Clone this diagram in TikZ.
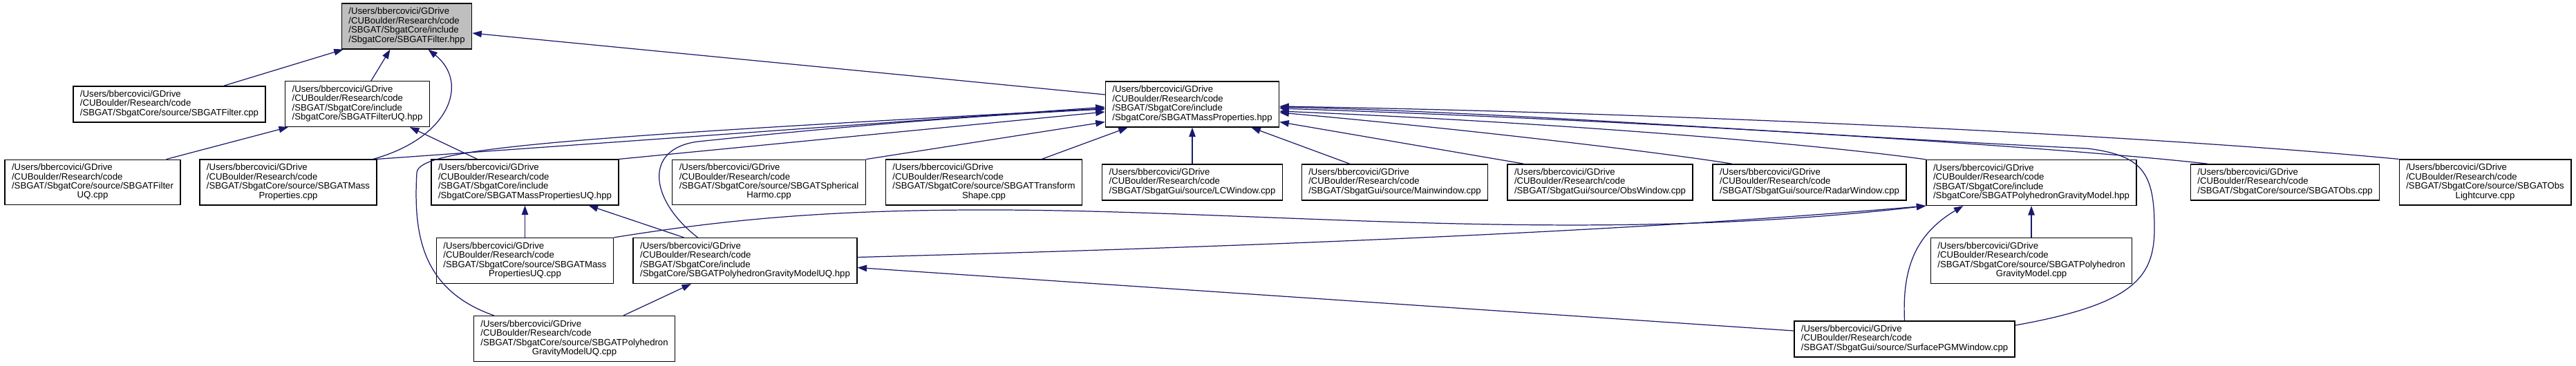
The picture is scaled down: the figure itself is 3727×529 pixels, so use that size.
\documentclass[tikz,border=0pt]{standalone}
\usepackage{fontspec}
\setmainfont{Liberation Sans}
\usetikzlibrary{arrows.meta,calc}

\definecolor{edgeblue}{HTML}{191970}
\definecolor{rootgray}{HTML}{BFBFBF}

% path labels: two common lines, then the rest
\newcommand{\fhead}{/Users/bbercovici/GDrive\\ /CUBoulder/Research/code\\}
\newcommand{\fcont}[1]{\multicolumn{1}{@{}c@{}}{#1}}
\newcommand{\fpath}[1]{\begin{tabular}{@{}l@{}}\fhead #1\end{tabular}}

\tikzset{
  filebox/.style={draw=black, line width=0.8pt, fill=white, inner xsep=0.2cm,
    inner ysep=0.12cm, font=\fontsize{7.5}{7.4}\selectfont},
  rootbox/.style={filebox, fill=rootgray},
  incl/.style={draw=edgeblue, line width=0.7pt, -{Triangle[length=0.27cm,width=0.19cm]}}
}

\begin{document}
\begin{tikzpicture}[x=0.02cm, y=-0.02cm]
    \useasboundingbox (0,0) rectangle (3727,529);

    % The header itself
    \node[rootbox] (root) at (588.5,38) {\fpath{/SBGAT/SbgatCore/include\\ /SbgatCore/SBGATFilter.hpp}};

    % Second row
    \node[filebox] (filtercpp) at (245,151) {\fpath{/SBGAT/SbgatCore/source/SBGATFilter.cpp}};
    \node[filebox] (filteruqhpp) at (517,150.5) {\fpath{/SBGAT/SbgatCore/include\\ /SbgatCore/SBGATFilterUQ.hpp}};
    \node[filebox] (masshpp) at (1725,151) {\fpath{/SBGAT/SbgatCore/include\\ /SbgatCore/SBGATMassProperties.hpp}};

    % Third row
    \node[filebox] (filteruqcpp) at (134,264) {\fpath{/SBGAT/SbgatCore/source/SBGATFilter\\ \fcont{UQ.cpp}}};
    \node[filebox] (masscpp) at (417,264) {\fpath{/SBGAT/SbgatCore/source/SBGATMass\\ \fcont{Properties.cpp}}};
    \node[filebox] (massuqhpp) at (759.5,264) {\fpath{/SBGAT/SbgatCore/include\\ /SbgatCore/SBGATMassPropertiesUQ.hpp}};
    \node[filebox] (sphcpp) at (1112.5,264) {\fpath{/SBGAT/SbgatCore/source/SBGATSpherical\\ \fcont{Harmo.cpp}}};
    \node[filebox] (transcpp) at (1423.5,264) {\fpath{/SBGAT/SbgatCore/source/SBGATTransform\\ \fcont{Shape.cpp}}};
    \node[filebox] (lccpp) at (1725,264) {\fpath{/SBGAT/SbgatGui/source/LCWindow.cpp}};
    \node[filebox] (maincpp) at (2018,264) {\fpath{/SBGAT/SbgatGui/source/Mainwindow.cpp}};
    \node[filebox] (obswincpp) at (2315,264) {\fpath{/SBGAT/SbgatGui/source/ObsWindow.cpp}};
    \node[filebox] (radarcpp) at (2618,264) {\fpath{/SBGAT/SbgatGui/source/RadarWindow.cpp}};
    \node[filebox] (pgmhpp) at (2939,264.5) {\fpath{/SBGAT/SbgatCore/include\\ /SbgatCore/SBGATPolyhedronGravityModel.hpp}};
    \node[filebox] (obscpp) at (3306,264) {\fpath{/SBGAT/SbgatCore/source/SBGATObs.cpp}};
    \node[filebox] (lightcpp) at (3595.5,264) {\fpath{/SBGAT/SbgatCore/source/SBGATObs\\ \fcont{Lightcurve.cpp}}};

    % Fourth row
    \node[filebox] (massuqcpp) at (759.5,377.5) {\fpath{/SBGAT/SbgatCore/source/SBGATMass\\ \fcont{PropertiesUQ.cpp}}};
    \node[filebox] (pgmuqhpp) at (1078,377.5) {\fpath{/SBGAT/SbgatCore/include\\ /SbgatCore/SBGATPolyhedronGravityModelUQ.hpp}};
    \node[filebox] (pgmcpp) at (2939,377.5) {\fpath{/SBGAT/SbgatCore/source/SBGATPolyhedron\\ \fcont{GravityModel.cpp}}};

    % Bottom row
    \node[filebox] (pgmuqcpp) at (831,490.5) {\fpath{/SBGAT/SbgatCore/source/SBGATPolyhedron\\ \fcont{GravityModelUQ.cpp}}};
    \node[filebox] (surfcpp) at (2755.5,491) {\fpath{/SBGAT/SbgatGui/source/SurfacePGMWindow.cpp}};

    % Includes of SBGATFilter.hpp
    \draw[incl] ($(filtercpp.north)+(79,0)$) -- ($(root.south west)+(3,0)$);
    \draw[incl] ($(filteruqhpp.north)+(20,0)$) -- ($(root.south)+(-24,0)$);
    \draw[incl] ($(masscpp.north east)+(-6,0)$) .. controls (650,200) and (680,120) .. ($(root.south)+(31,0)$);
    \draw[incl] ($(masshpp.west)+(0,-14)$) -- ($(root.east)+(0,10)$);
    \draw[incl] ($(filteruqcpp.north east)+(-21,0)$) -- ($(filteruqhpp.south west)+(5,0)$);
    \draw[incl] ($(massuqhpp.north)+(-69,0)$) -- ($(filteruqhpp.south)+(76,0)$);

    % Includes of SBGATMassProperties.hpp, left side
    \draw[incl] (masscpp.north east) -- ($(masshpp.west)+(0,4)$);
    \draw[incl] ($(pgmuqcpp.north west)+(30,0)$) .. controls (610,420) and (598,340) .. (603,250)
        .. controls (606,215) and (800,200) .. ($(masshpp.west)+(0,6)$);
    \draw[incl] ($(pgmuqhpp.north west)+(94,0)$) .. controls (940,290) and (930,215) .. (1010,205)
        .. controls (1200,185) and (1400,168) .. ($(masshpp.west)+(0,7)$);
    \draw[incl] (massuqhpp.north east) -- ($(masshpp.west)+(0,11)$);
    \draw[incl] (sphcpp.north east) -- ($(masshpp.south west)+(0,-8)$);
    \draw[incl] ($(transcpp.north east)+(-59,0)$) -- ($(masshpp.south west)+(33,0)$);
    \draw[incl] (lccpp.north) -- (masshpp.south);

    % Includes of SBGATMassProperties.hpp, right side
    \draw[incl] ($(maincpp.north west)+(70,0)$) -- ($(masshpp.south east)+(-41,0)$);
    \draw[incl] ($(obswincpp.north west)+(24,0)$) -- ($(masshpp.south east)+(0,-8)$);
    \draw[incl] ($(radarcpp.north west)+(28,0)$) .. controls (2400,220) and (2100,185) .. ($(masshpp.east)+(0,12)$);
    \draw[incl] (pgmhpp.north west) .. controls (2600,205) and (2200,175) .. ($(masshpp.east)+(0,10)$);
    \draw[incl] ($(obscpp.north west)+(25,0)$) .. controls (3000,215) and (2400,175) .. ($(masshpp.east)+(0,6)$);
    \draw[incl] (lightcpp.north west) .. controls (3100,195) and (2400,163) .. ($(masshpp.east)+(0,3)$);
    \draw[incl] ($(surfcpp.east)+(0,-20)$) .. controls (3090,440) and (3117,400) .. (3117,330)
        .. controls (3117,250) and (3100,225) .. (3020,215)
        .. controls (2600,195) and (2200,163) .. ($(masshpp.east)+(0,4)$);

    % Lower headers
    \draw[incl] (massuqcpp.north) -- (massuqhpp.south);
    \draw[incl] ($(pgmuqhpp.north west)+(74,0)$) -- ($(massuqhpp.south east)+(-44,0)$);
    \draw[incl] (massuqcpp.north east) .. controls (1050,318) and (1200,303) .. (1450,304)
        .. controls (1850,306) and (2300,355) .. (pgmhpp.south west);
    \draw[incl] ($(pgmuqhpp.east)+(0,-5)$) .. controls (1700,360) and (2300,340) .. (pgmhpp.south west);
    \draw[incl] ($(pgmuqcpp.north)+(71,0)$) -- ($(pgmuqhpp.south)+(-78,0)$);
    \draw[incl] ($(surfcpp.west)+(0,-12)$) -- ($(pgmuqhpp.east)+(0,10)$);
    \draw[incl] (surfcpp.north) .. controls (2752,390) and (2770,340) .. ($(pgmhpp.south west)+(54,0)$);
    \draw[incl] (pgmcpp.north) -- (pgmhpp.south);
\end{tikzpicture}
\end{document}
